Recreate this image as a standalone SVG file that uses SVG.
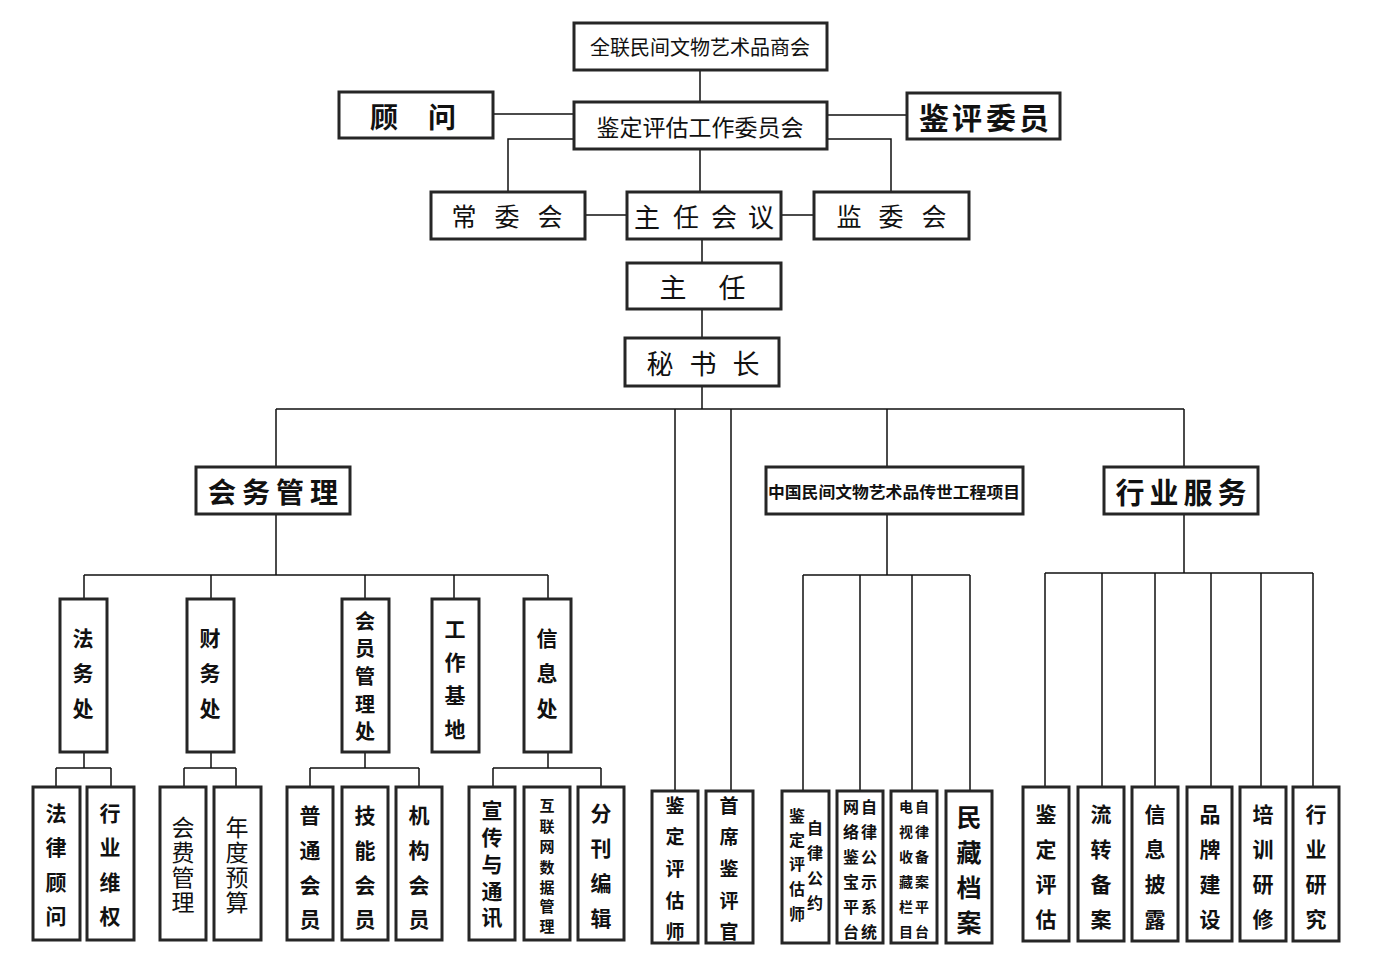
<svg xmlns="http://www.w3.org/2000/svg" width="1400" height="976" viewBox="0 0 1400 976">
<style>
.box{fill:#fff;stroke:#262626;stroke-width:3}
.ln{fill:none;stroke:#111;stroke-width:1.5}
.r{font-family:"Noto Sans CJK SC","Noto Sans",sans-serif;font-weight:400;fill:#111;text-anchor:middle;dominant-baseline:central}
.b{font-family:"Noto Sans CJK SC","Noto Sans",sans-serif;font-weight:700;fill:#111;text-anchor:middle;dominant-baseline:central}
</style>
<rect width="1400" height="976" fill="#fff"/>
<g id="connectors">
<path class="ln" d="M700 70V101 M493 114H573 M827 115H906 M573 139H508V191 M827 139H891V191 M700 149V191 M585 215H626 M781 215H813 M702 239V262 M702 309V337 M702 386V409 M276 409H1184 M276 409V466 M887 409V466 M1184 409V466 M675 409V790 M731 409V790 M276 514V575 M84 575H548 M84 575V598 M211 575V598 M365 575V598 M454 575V598 M548 575V598 M84 752V768 M56 768H111 M56 768V786 M111 768V786 M211 752V768 M184 768H236 M184 768V786 M236 768V786 M365 752V768 M310 768H419 M310 768V786 M419 768V786 M548 752V768 M493 768H601 M493 768V786 M601 768V786 M887 514V575 M803 575H970 M803 575V790 M860 575V790 M912 575V790 M970 575V790 M1184 514V573 M1045 573H1313 M1045 573V786 M1102 573V786 M1155 573V786 M1211 573V786 M1261 573V786 M1313 573V786"/>
</g>
<g id="n-top"><rect class="box" x="574" y="23" width="253" height="47"/><text class="r" x="700" y="46" font-size="20">全联民间文物艺术品商会</text></g>
<g id="n-guwen"><rect class="box" x="339" y="92" width="154" height="46"/><text class="b" x="384 442" y="116" font-size="28">顾问</text></g>
<g id="n-jianding"><rect class="box" x="574" y="102" width="253" height="47"/><text class="r" x="700" y="126" font-size="23">鉴定评估工作委员会</text></g>
<g id="n-jianping"><rect class="box" x="907" y="93" width="153" height="46"/><text class="b" x="934 967 1001 1034" y="116" font-size="30">鉴评委员</text></g>
<g id="n-changwei"><rect class="box" x="431" y="192" width="154" height="47"/><text class="r" x="464 507 550" y="215" font-size="25">常委会</text></g>
<g id="n-zhurenhuiyi"><rect class="box" x="627" y="192" width="154" height="47"/><text class="r" x="647 686 724 761" y="215" font-size="26">主任会议</text></g>
<g id="n-jianwei"><rect class="box" x="814" y="192" width="155" height="47"/><text class="r" x="849 891 934" y="215" font-size="25">监委会</text></g>
<g id="n-zhuren"><rect class="box" x="627" y="263" width="154" height="46"/><text class="r" x="673 732" y="286" font-size="27">主任</text></g>
<g id="n-mishuzhang"><rect class="box" x="625" y="338" width="154" height="48"/><text class="r" x="660 703 746" y="362" font-size="27">秘书长</text></g>
<g id="n-huiwu"><rect class="box" x="196" y="467" width="154" height="47"/><text class="b" x="222 256 290 324" y="491" font-size="28">会务管理</text></g>
<g id="n-chuanshi"><rect class="box" x="766" y="467" width="257" height="47"/><text class="b" x="894" y="491" font-size="16" textLength="252" lengthAdjust="spacingAndGlyphs">中国民间文物艺术品传世工程项目</text></g>
<g id="n-hangye"><rect class="box" x="1104" y="467" width="154" height="47"/><text class="b" x="1130 1164 1198 1232" y="491" font-size="29">行业服务</text></g>

<g id="n-fawu"><rect class="box" x="60" y="599" width="47" height="153"/><text class="b" x="83 83 83" y="637 672 707" font-size="21">法务处</text></g>
<g id="n-caiwu"><rect class="box" x="187" y="599" width="47" height="153"/><text class="b" x="210 210 210" y="637 672 707" font-size="21">财务处</text></g>
<g id="n-huiyuan"><rect class="box" x="342" y="599" width="47" height="153"/><text class="b" x="365 365 365 365 365" y="620 647 675 703 730" font-size="20">会员管理处</text></g>
<g id="n-gongzuo"><rect class="box" x="432" y="599" width="47" height="153"/><text class="b" x="455 455 455 455" y="628 661 694 728" font-size="21">工作基地</text></g>
<g id="n-xinxi"><rect class="box" x="524" y="599" width="47" height="153"/><text class="b" x="547 547 547" y="637 672 707" font-size="21">信息处</text></g>

<g id="n-falv"><rect class="box" x="33" y="787" width="47" height="153"/><text class="b" x="56 56 56 56" y="812 846 881 915" font-size="21">法律顾问</text></g>
<g id="n-weiquan"><rect class="box" x="87" y="787" width="47" height="153"/><text class="b" x="110 110 110 110" y="812 846 881 915" font-size="21">行业维权</text></g>
<g id="n-huifei"><rect class="box" x="160" y="787" width="46" height="153"/><text class="r" x="183 183 183 183" y="826 851 876 901" font-size="23">会费管理</text></g>
<g id="n-yusuan"><rect class="box" x="214" y="787" width="47" height="153"/><text class="r" x="237 237 237 237" y="826 851 876 901" font-size="23">年度预算</text></g>
<g id="n-putong"><rect class="box" x="287" y="787" width="46" height="153"/><text class="b" x="310 310 310 310" y="814 849 884 918" font-size="21">普通会员</text></g>
<g id="n-jineng"><rect class="box" x="342" y="787" width="46" height="153"/><text class="b" x="365 365 365 365" y="814 849 884 918" font-size="21">技能会员</text></g>
<g id="n-jigou"><rect class="box" x="396" y="787" width="46" height="153"/><text class="b" x="419 419 419 419" y="814 849 884 918" font-size="21">机构会员</text></g>
<g id="n-xuanchuan"><rect class="box" x="469" y="787" width="46" height="153"/><text class="b" x="492 492 492 492 492" y="809 836 863 890 916" font-size="21">宣传与通讯</text></g>
<g id="n-hulianwang"><rect class="box" x="524" y="787" width="46" height="153"/><text class="b" x="547 547 547 547 547 547 547" y="804 825 845 866 886 905 925" font-size="15">互联网数据管理</text></g>
<g id="n-fenkan"><rect class="box" x="578" y="787" width="46" height="153"/><text class="b" x="601 601 601 601" y="812 847 882 917" font-size="21">分刊编辑</text></g>

<g id="n-pinggushi"><rect class="box" x="652" y="791" width="46" height="152"/><text class="b" x="675 675 675 675 675" y="804 835 867 899 930" font-size="19">鉴定评估师</text></g>
<g id="n-shouxi"><rect class="box" x="706" y="791" width="47" height="152"/><text class="b" x="729 729 729 729 729" y="804 835 867 899 930" font-size="19">首席鉴评官</text></g>

<g id="n-zilvgongyue"><rect class="box" x="782" y="791" width="47" height="152"/><text class="b" x="797 797 797 797 797" y="815 839 863 888 913" font-size="16">鉴定评估师</text><text class="b" x="815 815 815 815" y="827 852 877 902" font-size="16">自律公约</text></g>
<g id="n-wangluo"><rect class="box" x="837" y="791" width="46" height="152"/><text class="b" x="851 851 851 851 851 851" y="806 831 856 881 906 931" font-size="16">网络鉴宝平台</text><text class="b" x="869 869 869 869 869 869" y="806 831 856 881 906 931" font-size="16">自律公示系统</text></g>
<g id="n-dianshi"><rect class="box" x="891" y="791" width="46" height="152"/><text class="b" x="906 906 906 906 906 906" y="806 831 856 881 906 931" font-size="14">电视收藏栏目</text><text class="b" x="922 922 922 922 922 922" y="806 831 856 881 906 931" font-size="14">自律备案平台</text></g>
<g id="n-mincang"><rect class="box" x="946" y="791" width="46" height="152"/><text class="b" x="969 969 969 969" y="816 851 886 921" font-size="25">民藏档案</text></g>

<g id="n-jdpg"><rect class="box" x="1023" y="787" width="46" height="154"/><text class="b" x="1046 1046 1046 1046" y="813 848 883 918" font-size="21">鉴定评估</text></g>
<g id="n-liuzhuan"><rect class="box" x="1078" y="787" width="46" height="154"/><text class="b" x="1101 1101 1101 1101" y="813 848 883 918" font-size="21">流转备案</text></g>
<g id="n-pilu"><rect class="box" x="1132" y="787" width="46" height="154"/><text class="b" x="1155 1155 1155 1155" y="813 848 883 918" font-size="21">信息披露</text></g>
<g id="n-pinpai"><rect class="box" x="1187" y="787" width="45" height="154"/><text class="b" x="1210 1210 1210 1210" y="813 848 883 918" font-size="21">品牌建设</text></g>
<g id="n-peixun"><rect class="box" x="1240" y="787" width="46" height="154"/><text class="b" x="1263 1263 1263 1263" y="813 848 883 918" font-size="21">培训研修</text></g>
<g id="n-yanjiu"><rect class="box" x="1293" y="787" width="46" height="154"/><text class="b" x="1316 1316 1316 1316" y="813 848 883 918" font-size="21">行业研究</text></g>
</svg>
